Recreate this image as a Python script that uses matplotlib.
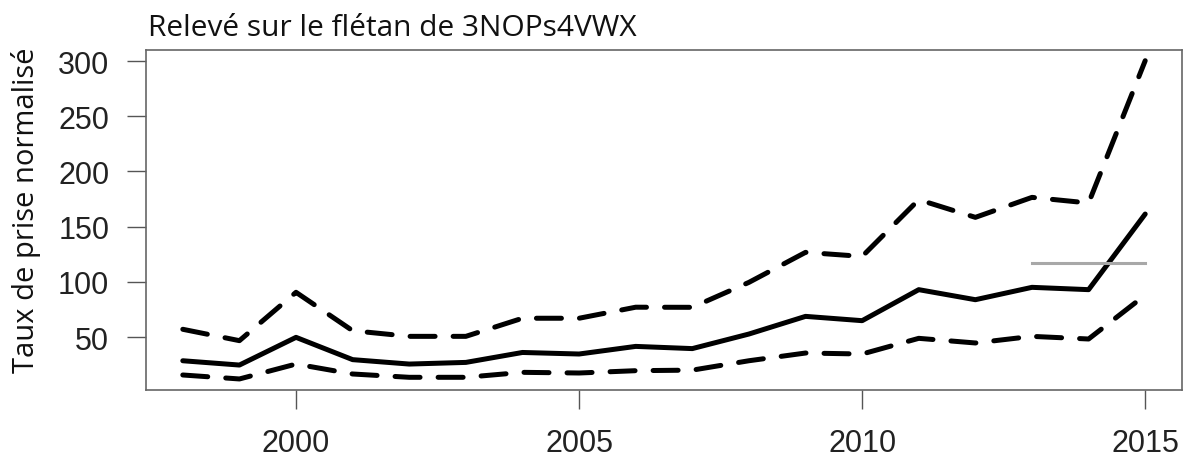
import matplotlib
matplotlib.use("Agg")
import matplotlib.pyplot as plt

years = list(range(1998, 2016))
mean_rate = [28.5, 24.6, 49.7, 29.5, 25.5, 27.0, 36.0, 34.6, 41.5, 39.5,
             52.7, 68.7, 64.8, 92.9, 83.8, 95.0, 92.9, 161.4]
upper_ci = [57.0, 46.7, 90.5, 55.7, 50.6, 50.6, 67.0, 67.0, 77.0, 76.9,
            99.5, 126.7, 123.0, 174.4, 158.4, 176.5, 171.4, 300.3]
lower_ci = [15.6, 12.0, 25.5, 16.5, 13.5, 13.5, 18.0, 17.4, 19.5, 20.0,
            28.5, 35.5, 34.6, 48.8, 44.6, 50.6, 48.2, 88.0]
ref_years = [2013, 2015]
ref_level = [117, 117]

xticks = [2000, 2005, 2010, 2015]
yticks = [50, 100, 150, 200, 250, 300]
title = "Relevé sur le flétan de 3NOPs4VWX"
ylabel = "Taux de prise normalisé"

plt.rcParams['lines.scale_dashes'] = False
W, H = 1184, 464
fig = plt.figure(figsize=(W / 100, H / 100), dpi=100)
ax = fig.add_axes([146 / W, 1 - 391 / H, (1182 - 146) / W, (391 - 51) / H])

lw = 3.6
dash = (18, 13)
ax.plot(years, upper_ci, color='black', lw=lw, dashes=dash,
        dash_capstyle='round', solid_joinstyle='round')
ax.plot(years, lower_ci, color='black', lw=lw, dashes=dash,
        dash_capstyle='round')
ax.plot(years, mean_rate, color='black', lw=lw, solid_capstyle='round',
        solid_joinstyle='round')
ax.plot(ref_years, ref_level, color='#a8a8a8', lw=2.2)

ax.set_xlim(1997.35, 2015.65)
ax.set_ylim(2, 310)
ax.set_xticks(xticks)
ax.set_yticks(yticks)
ax.set_xticklabels([str(t) for t in xticks])
ax.set_yticklabels([str(t) for t in yticks])

for s in ax.spines.values():
    s.set_color('#666666')
    s.set_linewidth(1.2)

ax.tick_params(axis='both', direction='out', length=13.5, width=1.0,
               color='#555555', labelcolor='#222222')
ax.tick_params(axis='x', pad=14)
ax.tick_params(axis='y', pad=13)
for lab in ax.get_xticklabels() + ax.get_yticklabels():
    lab.set_fontfamily('Liberation Sans')
    lab.set_fontsize(22)

fig.text(148 / W, 1 - 36 / H, title, fontsize=21.5, family='Open Sans',
         ha='left', va='baseline', color='#111111')
fig.text(26 / W, 1 - 210 / H, ylabel, fontsize=21, family='Open Sans',
         rotation=90, ha='center', va='center', color='#111111')

fig.savefig('out.png', dpi=100)
